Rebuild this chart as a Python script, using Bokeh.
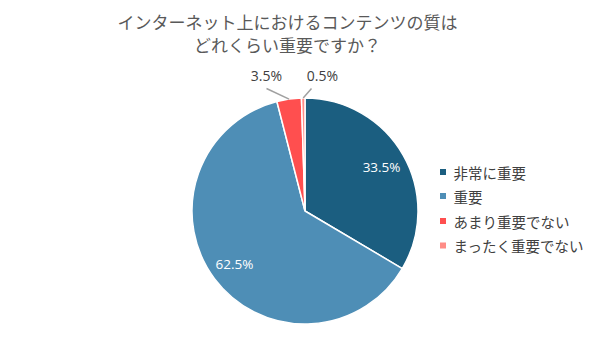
import math
from bokeh.plotting import figure
from bokeh.models import Range1d, ColumnDataSource
from bokeh.core.properties import value
from bokeh.embed import file_html
from bokeh.resources import INLINE

# ---- data ----
title_lines = ["インターネット上におけるコンテンツの質は", "どれくらい重要ですか？"]
categories = ["非常に重要", "重要", "あまり重要でない", "まったく重要でない"]
values = [33.5, 62.5, 3.5, 0.5]
colors = ["#1b5e80", "#4e8eb6", "#ff4f4f", "#ff8c86"]

W, H = 592, 353
p = figure(width=W, height=H, output_backend="svg", toolbar_location=None,
           x_range=Range1d(0, W), y_range=Range1d(0, H), min_border=0)
p.axis.visible = False
p.grid.visible = False
p.outline_line_color = None
p.background_fill_color = "white"
p.border_fill_color = "white"

def sy(y):  # screenshot y -> data y
    return H - y

def sx(x):
    return x

cx, cy, R = sx(304.5), sy(210.5), 113
total = sum(values)
starts, ends, mids = [], [], []
cum = 0.0
for v in values:
    a0 = math.pi / 2 - 2 * math.pi * cum / total
    cum += v
    a1 = math.pi / 2 - 2 * math.pi * cum / total
    starts.append(a0); ends.append(a1); mids.append((a0 + a1) / 2)

src = ColumnDataSource(dict(start=starts, end=ends, color=colors))
p.wedge(x=cx, y=cy, radius=R, start_angle="start", end_angle="end",
        direction="clock", fill_color="color", line_color="white",
        line_width=1.5, source=src)

labels = [f"{v}%" for v in values]
# inside labels
for i in (0, 1):
    r = 0.78 * R
    p.text(x=[cx + r * math.cos(mids[i])], y=[cy + r * math.sin(mids[i])],
           text=[labels[i]], text_color="white", text_font=value("Open Sans"),
           text_font_size="13.5px", text_align="center", text_baseline="middle")

# outside labels with leader lines
label_pos = {2: (sx(266), sy(75)), 3: (sx(322), sy(75))}
line_end = {2: (sx(266), sy(88)), 3: (sx(311), sy(88))}
for i in (2, 3):
    ex, ey = cx + R * math.cos(mids[i]), cy + R * math.sin(mids[i])
    lx, ly = line_end[i]
    p.line(x=[ex, lx], y=[ey, ly], line_color="#a0a0a0", line_width=1.5)
    tx, ty = label_pos[i]
    p.text(x=[tx], y=[ty], text=[labels[i]], text_color="#404040",
           text_font=value("Open Sans"), text_font_size="14px",
           text_align="center", text_baseline="middle")

# title
for j, t in enumerate(title_lines):
    p.text(x=[sx(287)], y=[sy(21 + j * 22.5)], text=[t], text_color="#595959",
           text_font=value("Noto Sans CJK JP"), text_font_size="17px",
           text_align="center", text_baseline="middle")

# legend
leg_y = [171.5, 195.5, 220.5, 245]
for i, c in enumerate(categories):
    p.rect(x=[sx(442.5)], y=[sy(leg_y[i])], width=6, height=6,
           fill_color=colors[i], line_color=None)
    p.text(x=[sx(453)], y=[sy(leg_y[i])], text=[c], text_color="#404040",
           text_font=value("Noto Sans CJK JP"), text_font_size="14.5px",
           text_align="left", text_baseline="middle")

open("out.html", "w").write(file_html(p, INLINE))
